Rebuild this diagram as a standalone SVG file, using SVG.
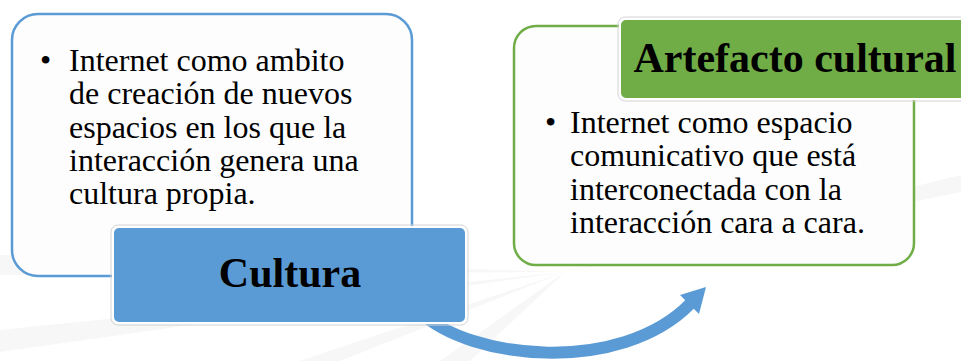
<svg xmlns="http://www.w3.org/2000/svg" width="961" height="361" viewBox="0 0 961 361">
  <defs>
    <style>
      .body { font-family: 'Liberation Serif', 'DejaVu Serif', serif; font-size: 32px; fill: #000; }
      .title { font-family: 'Liberation Serif', 'DejaVu Serif', serif; font-size: 42px; font-weight: bold; fill: #000; text-anchor: middle; }
      .ray { fill: #f7f7f7; }
      .card { fill: #fdfdfd; stroke-width: 2.5; }
      .tab { stroke: #ffffff; stroke-width: 2; }
      .tabedge { fill: none; stroke: #d4d4d4; stroke-width: 1; }
    </style>
  </defs>
  <rect width="961" height="361" fill="#ffffff"/>
  <g id="background">
    <polygon class="ray" points="565,272 0,255 0,275"/>
    <polygon class="ray" points="565,272 0,330 0,352"/>
    <polygon class="ray" points="565,272 300,361 340,361"/>
    <polygon class="ray" points="565,272 440,361 470,361"/>
    <polygon class="ray" points="565,272 961,175 961,192"/>
  </g>
  <g id="connectors">
    <path d="M 420 312 C 470 360, 620 375, 690 304" fill="none" stroke="#5B9BD5" stroke-width="12"/>
    <polygon points="706,287 680,295 699,314" fill="#5B9BD5"/>
  </g>
  <g id="cultura-card">
    <rect class="card" x="12" y="14" width="400" height="262" rx="26" stroke="#5B9BD5"/>
    <g class="body" font-family="Liberation Serif, serif">
      <text x="40" y="71">•</text>
      <text x="69" y="71">Internet como ambito</text>
      <text x="69" y="104">de creación de nuevos</text>
      <text x="69" y="138">espacios en los que la</text>
      <text x="69" y="171">interacción genera una</text>
      <text x="69" y="204">cultura propia.</text>
    </g>
  </g>
  <g id="cultura-title">
    <rect class="tabedge" x="111" y="225" width="357" height="100" rx="7"/>
    <rect class="tab" x="113" y="227" width="353" height="96" rx="6" fill="#5B9BD5"/>
    <text class="title" x="290" y="287">Cultura</text>
  </g>
  <g id="artefacto-card">
    <rect class="card" x="514" y="26" width="400" height="239" rx="22" stroke="#70AD47"/>
    <g class="body" font-family="Liberation Serif, serif">
      <text x="545" y="133">•</text>
      <text x="570" y="133">Internet como espacio</text>
      <text x="570" y="166">comunicativo que está</text>
      <text x="570" y="200">interconectada con la</text>
      <text x="570" y="233">interacción cara a cara.</text>
    </g>
  </g>
  <g id="artefacto-title">
    <rect class="tabedge" x="618" y="17" width="356" height="84" rx="7"/>
    <rect class="tab" x="620" y="19" width="352" height="80" rx="6" fill="#70AD47"/>
    <text class="title" x="795" y="72">Artefacto cultural</text>
  </g>
</svg>
